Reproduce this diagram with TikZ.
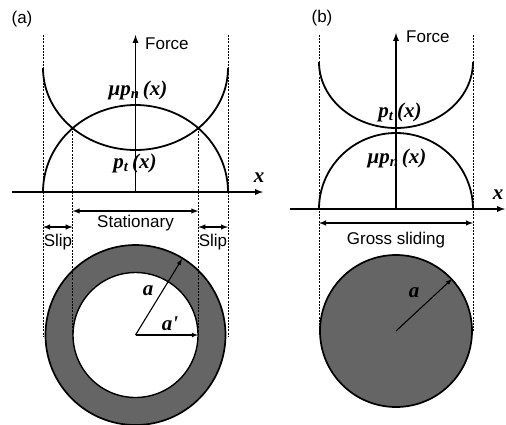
\documentclass[tikz,border=0pt]{standalone}
\usepackage{fontspec}
\setmainfont{Liberation Serif}
\setsansfont{Liberation Sans}
\usetikzlibrary{arrows}
\definecolor{RingGray}{HTML}{656565}

\newcommand{\fnlab}[2]{#1\textsubscript{#2}\,(x)}

\begin{document}
\begin{tikzpicture}[x=1pt, y=-1pt,
  lbl/.style={font=\sffamily\fontsize{17}{19}\selectfont, inner sep=1pt},
  fn/.style={font=\bfseries\itshape\fontsize{21}{23}\selectfont, inner sep=0pt},
  curve/.style={line width=1.8pt},
  axis/.style={line width=1.7pt, -latex},
  guide/.style={dash pattern=on 2pt off 1.2pt, line width=1pt},
  dim/.style={latex-latex, line width=1.4pt},
  rad/.style={-latex, line width=1.1pt}
]
  \useasboundingbox (0,0) rectangle (506,424);

  % (a) partial slip
  \node[lbl] (taga) at (22,19) {(a)};
  \coordinate (ca) at (135.5,335);
  \filldraw[fill=RingGray, line width=1.7pt] (ca) circle[radius=90pt];
  \filldraw[fill=white, line width=1.4pt] (ca) circle[radius=62.5pt];

  \foreach \gx in {43,228}
    \draw[guide] (\gx,35) -- (\gx,336);
  \foreach \gx in {72.7,198.3}
    \draw[guide] (\gx,128) -- (\gx,335);

  \coordinate (xla) at (12,192);
  \coordinate (xra) at (263,192);
  \coordinate (ya0) at (135.5,192);
  \coordinate (ya1) at (135.5,35);
  \draw[axis] (xla) -- (xra);
  \draw[axis] (ya0) -- (ya1);
  \node[lbl, anchor=west] (forcea) at (144,44) {Force};
  \node[fn] (xa) at (259,178) {x};

  \draw[curve] plot[domain=0:180, samples=90]
    ({135.5+92.5*cos(\x)}, {192-87*sin(\x)});
  \draw[curve] plot[domain=180:360, samples=90]
    ({135.5+92.5*cos(\x)}, {68-82*sin(\x)});
  \node[fn] (pna) at (138,90) {\fnlab{μp}{n}};
  \node[fn] (pta) at (135,163) {\fnlab{p}{t}};

  \coordinate (stl) at (72.7,211);
  \coordinate (str) at (198.3,211);
  \draw[dim] (stl) -- (str);
  \node[lbl] (stat) at (135.5,223) {Stationary};
  \coordinate (sl0) at (43,227);
  \coordinate (sl1) at (72.7,227);
  \coordinate (sr0) at (198.3,227);
  \coordinate (sr1) at (228,227);
  \draw[dim] (sl0) -- (sl1);
  \draw[dim] (sr0) -- (sr1);
  \node[lbl] (slipl) at (58,242) {Slip};
  \node[lbl] (slipr) at (213,242) {Slip};

  \coordinate (ra) at (182,259);
  \coordinate (ria) at (198,335);
  \draw[rad] (ca) -- (ra);
  \draw[rad] (ca) -- (ria);
  \node[fn] (laba) at (148,291) {a};
  \node[fn] (labai) at (170,324) {a\textquotesingle};

  % (b) gross sliding
  \node[lbl] (tagb) at (322,18) {(b)};
  \coordinate (cb) at (396,331);
  \filldraw[fill=RingGray, line width=1.7pt] (cb) circle[radius=76pt];

  \foreach \gx in {319,473}
    \draw[guide] (\gx,35) -- (\gx,331);

  \coordinate (xlb) at (290,209);
  \coordinate (xrb) at (505,209);
  \coordinate (yb0) at (396,209);
  \coordinate (yb1) at (396,33);
  \draw[axis] (xlb) -- (xrb);
  \draw[axis] (yb0) -- (yb1);
  \node[lbl, anchor=west] (forceb) at (405,37) {Force};
  \node[fn] (xb) at (498,195) {x};

  \draw[curve] plot[domain=0:180, samples=90]
    ({396+77*cos(\x)}, {209-76*sin(\x)});
  \draw[curve] plot[domain=180:360, samples=90]
    ({396+77*cos(\x)}, {62-66*sin(\x)});
  \node[fn] (ptb) at (400,112) {\fnlab{p}{t}};
  \node[fn] (pnb) at (397,158) {\fnlab{μp}{n}};

  \coordinate (gsl) at (319,223);
  \coordinate (gsr) at (473,223);
  \draw[dim] (gsl) -- (gsr);
  \node[lbl] (gross) at (396,240) {Gross sliding};

  \coordinate (rb) at (452,279);
  \draw[rad] (cb) -- (rb);
  \node[fn] (labb) at (414,293) {a};
\end{tikzpicture}
\end{document}
